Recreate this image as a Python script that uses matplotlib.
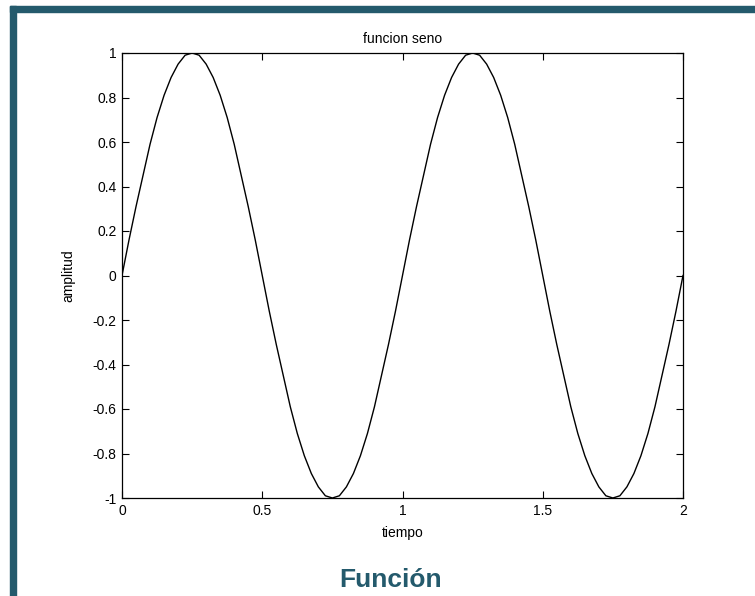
import matplotlib
matplotlib.use('Agg')
import matplotlib.pyplot as plt
from matplotlib.patches import Rectangle
import numpy as np

# muestras de la senal (81 puntos entre 0 y 2)
tiempo = np.linspace(0, 2, 81)
amplitud = [0.00, 0.16, 0.31, 0.45, 0.59, 0.71, 0.81, 0.89, 0.95, 0.99,
            1.00, 0.99, 0.95, 0.89, 0.81, 0.71, 0.59, 0.45, 0.31, 0.16,
            0.00, -0.16, -0.31, -0.45, -0.59, -0.71, -0.81, -0.89, -0.95, -0.99,
            -1.00, -0.99, -0.95, -0.89, -0.81, -0.71, -0.59, -0.45, -0.31, -0.16,
            0.00, 0.16, 0.31, 0.45, 0.59, 0.71, 0.81, 0.89, 0.95, 0.99,
            1.00, 0.99, 0.95, 0.89, 0.81, 0.71, 0.59, 0.45, 0.31, 0.16,
            0.00, -0.16, -0.31, -0.45, -0.59, -0.71, -0.81, -0.89, -0.95, -0.99,
            -1.00, -0.99, -0.95, -0.89, -0.81, -0.71, -0.59, -0.45, -0.31, -0.16,
            0.00]

xticks = [0, 0.5, 1, 1.5, 2]
yticks = [-1, -0.8, -0.6, -0.4, -0.2, 0, 0.2, 0.4, 0.6, 0.8, 1]

plt.rcParams['font.family'] = ['Liberation Sans', 'DejaVu Sans']

fig = plt.figure(figsize=(7.55, 5.96), dpi=100)
teal = '#245a6c'

# marco del recuadro
fig.patches.append(Rectangle((10/755, 0), 6/755, 1 - 6/596, transform=fig.transFigure,
                             color=teal, zorder=0))
fig.patches.append(Rectangle((10/755, 1 - 12/596), 1, 6/596, transform=fig.transFigure,
                             color=teal, zorder=0))

ax = fig.add_axes([122/755, 1 - 498/596, (683 - 122)/755, (498 - 53)/596])
ax.plot(tiempo, amplitud, color='black', lw=1.0)
ax.set_xlim(0, 2)
ax.set_ylim(-1, 1)
ax.set_xticks(xticks)
ax.set_xticklabels(['0', '0.5', '1', '1.5', '2'])
ax.set_yticks(yticks)
ax.set_yticklabels(['-1', '-0.8', '-0.6', '-0.4', '-0.2', '0', '0.2', '0.4', '0.6', '0.8', '1'])
ax.tick_params(direction='in', top=True, right=True, length=5, width=0.8, labelsize=10, pad=4)
for s in ax.spines.values():
    s.set_linewidth(0.9)

ax.set_title('funcion seno', fontsize=10, pad=7)
ax.set_xlabel('tiempo', fontsize=10, labelpad=6)
ax.set_ylabel('amplitud', fontsize=10, labelpad=12)

fig.text(391/755, 1 - 580/596, 'Función', ha='center', va='center', fontsize=19,
         fontweight='bold', color=teal)

fig.savefig('out.png', dpi=100)
